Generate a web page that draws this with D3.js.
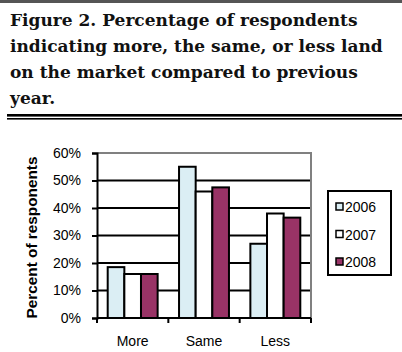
<!DOCTYPE html>
<html>
<head>
<meta charset="utf-8">
<script src="https://cdn.jsdelivr.net/npm/d3@7"></script>
<style>
  body { margin: 0; background: #fff; }
  svg { display: block; }
  .axis-label { font-family: "Liberation Sans", Arial, sans-serif; font-size: 14px; fill: #000; }
</style>
</head>
<body>
<div id="chart"></div>
<script>
// chart data
const titleLines = [
  "Figure 2. Percentage of respondents",
  "indicating more, the same, or less land",
  "on the market compared to previous",
  "year."
];
const categories = ["More", "Same", "Less"];
const years = ["2006", "2007", "2008"];
const values2006 = [18.5, 55, 27];
const values2007 = [16, 46, 38];
const values2008 = [16, 47.5, 36.5];
const yTicks = [0, 10, 20, 30, 40, 50, 60];
const yTitle = "Percent of responents";

const colors = { "2006": "#dbeef4", "2007": "#ffffff", "2008": "#993366" };

const width = 402, height = 352;

const svg = d3.select("#chart").append("svg")
  .attr("width", width)
  .attr("height", height);

svg.append("rect").attr("width", width).attr("height", height).attr("fill", "#fff");

// top rule
svg.append("rect").attr("x", 0).attr("y", 0).attr("width", width).attr("height", 3).attr("fill", "#555");

// Title - fit first line to width
let title = svg.append("g");
let t0 = title.append("text")
  .attr("font-family", "DejaVu Serif")
  .attr("font-weight", "bold")
  .attr("font-size", 20)
  .text(titleLines[0]);
let fs = 20 * 348 / t0.node().getComputedTextLength();
t0.remove();

titleLines.forEach((line, i) => {
  title.append("text")
    .attr("x", 10)
    .attr("y", 26 + i * 26)
    .attr("font-family", "DejaVu Serif")
    .attr("font-weight", "bold")
    .attr("font-size", fs)
    .attr("fill", "#111")
    .text(line);
});

// double rule below title
svg.append("rect").attr("x", 7).attr("y", 114).attr("width", width - 7).attr("height", 2.6).attr("fill", "#000");
svg.append("rect").attr("x", 7).attr("y", 118).attr("width", width - 7).attr("height", 1.6).attr("fill", "#000");

// plot area
const plot = { left: 97, right: 311, top: 153, bottom: 318 };

const x = d3.scaleBand()
  .domain(categories)
  .range([plot.left, plot.right])
  .paddingInner(0.3)
  .paddingOuter(0.15);

const xSub = d3.scaleBand()
  .domain(years)
  .range([0, x.bandwidth()]);

const y = d3.scaleLinear()
  .domain([0, 60])
  .range([plot.bottom, plot.top]);

// gridlines
svg.append("g")
  .selectAll("line")
  .data(yTicks.filter(d => d > 0 && d < 60))
  .enter().append("line")
  .attr("x1", plot.left).attr("x2", plot.right)
  .attr("y1", d => y(d)).attr("y2", d => y(d))
  .attr("stroke", "#000").attr("stroke-width", 2);

// frame top and right (gray)
svg.append("path")
  .attr("d", `M${plot.left},${plot.top}H${plot.right}V${plot.bottom}`)
  .attr("fill", "none").attr("stroke", "#808080").attr("stroke-width", 2);

// bars
const series = [values2006, values2007, values2008];
const barData = [];
categories.forEach((c, i) => {
  years.forEach((yr, j) => {
    barData.push({ cat: c, year: yr, value: series[j][i] });
  });
});

svg.append("g")
  .selectAll("rect")
  .data(barData)
  .enter().append("rect")
  .attr("x", d => x(d.cat) + xSub(d.year))
  .attr("y", d => y(d.value))
  .attr("width", xSub.bandwidth())
  .attr("height", d => y(0) - y(d.value))
  .attr("fill", d => colors[d.year])
  .attr("stroke", "#000")
  .attr("stroke-width", 2);

// y axis
const yAxis = d3.axisLeft(y)
  .tickValues(yTicks)
  .tickSize(5)
  .tickPadding(11)
  .tickFormat(d => d + "%");

const yG = svg.append("g")
  .attr("transform", `translate(${plot.left},0)`)
  .call(yAxis)
  .attr("font-size", null)
  .attr("font-family", null);
yG.select(".domain").attr("stroke", "#000").attr("stroke-width", 2);
yG.selectAll(".tick line").attr("stroke", "#000").attr("stroke-width", 2);
yG.selectAll("text").attr("class", "axis-label");

// x axis: ticks at category boundaries
const xG = svg.append("g")
  .attr("transform", `translate(0,${plot.bottom})`);
xG.append("line")
  .attr("x1", plot.left).attr("x2", plot.right)
  .attr("stroke", "#000").attr("stroke-width", 2);
const step = x.step();
const bounds = [plot.left].concat(categories.map(c => x(c) + x.bandwidth() + step * x.paddingInner() / 2));
bounds[bounds.length - 1] = plot.right;
xG.selectAll(".xtick")
  .data(bounds)
  .enter().append("line")
  .attr("class", "xtick")
  .attr("x1", d => d).attr("x2", d => d)
  .attr("y1", 0).attr("y2", 5)
  .attr("stroke", "#000").attr("stroke-width", 2);
xG.selectAll(".xlabel")
  .data(categories)
  .enter().append("text")
  .attr("class", "axis-label")
  .attr("x", d => x(d) + x.bandwidth() / 2)
  .attr("y", 28)
  .attr("text-anchor", "middle")
  .text(d => d);

// y title, fitted to the plot height
const yt = svg.append("text")
  .attr("text-anchor", "middle")
  .attr("font-family", "Liberation Sans, Arial, sans-serif")
  .attr("font-weight", "bold")
  .attr("font-size", 14)
  .text(yTitle);
const yfs = 14 * 162 / yt.node().getComputedTextLength();
yt.attr("font-size", yfs)
  .attr("transform", `translate(37,${(plot.top + plot.bottom) / 2 + 2}) rotate(-90)`);

// legend
const legend = svg.append("g").attr("transform", "translate(328,191)");
legend.append("rect")
  .attr("width", 63).attr("height", 84)
  .attr("fill", "#fff").attr("stroke", "#000").attr("stroke-width", 2);
years.forEach((yr, i) => {
  const cy = 16 + i * 27.5;
  legend.append("rect")
    .attr("x", 8).attr("y", cy - 4)
    .attr("width", 7).attr("height", 7)
    .attr("fill", colors[yr]).attr("stroke", "#000").attr("stroke-width", 1.5);
  legend.append("text")
    .attr("class", "axis-label")
    .attr("x", 17).attr("y", cy + 5)
    .text(yr);
});
</script>
</body>
</html>
